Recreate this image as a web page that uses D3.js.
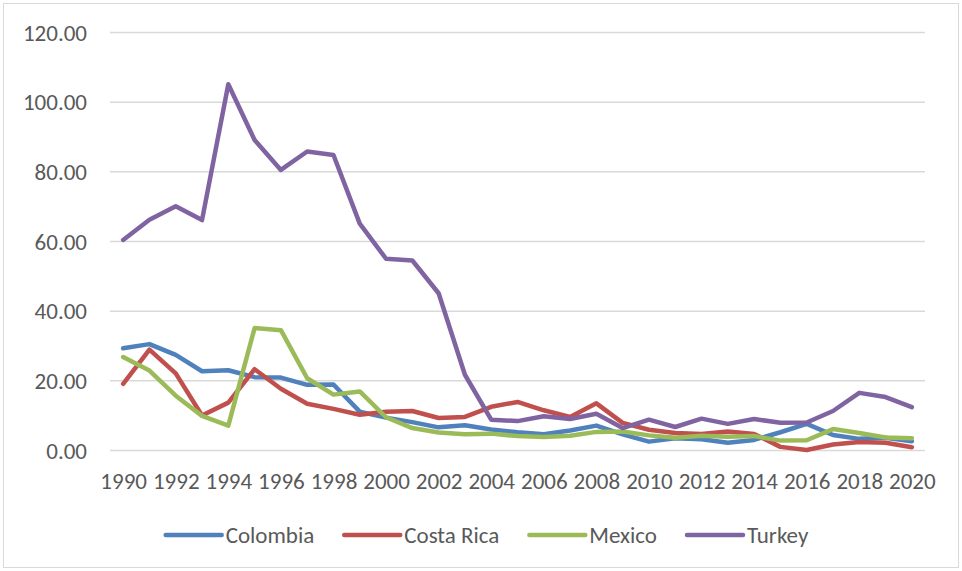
<!DOCTYPE html>
<html>
<head>
<meta charset="utf-8">
<script src="https://cdn.jsdelivr.net/npm/d3@7"></script>
<style>
  html, body { margin: 0; padding: 0; background: #fff; }
  svg { display: block; }
  text { font-family: Calibri, Carlito, "Liberation Sans", Arial, sans-serif; fill: #595959; }
</style>
</head>
<body>
<svg id="chart" width="962" height="571"></svg>
<script>
// Annual inflation (%), 1990-2020
const years = d3.range(1990, 2021);
const seriesNames = ["Colombia", "Costa Rica", "Mexico", "Turkey"];
const seriesColors = ["#4F81BD", "#C0504D", "#9BBB59", "#8064A2"];

const colombia = [29.2, 30.4, 27.3, 22.6, 22.9, 20.9, 20.8, 18.7, 18.8, 11.0, 9.3, 8.0, 6.5, 7.1, 5.9, 5.1, 4.5, 5.6, 7.0, 4.5, 2.4, 3.4, 3.1, 2.1, 2.9, 5.1, 7.5, 4.3, 3.2, 3.5, 2.5];
const costaRica = [19.0, 28.8, 22.0, 9.9, 13.6, 23.2, 17.6, 13.3, 11.8, 10.1, 11.0, 11.2, 9.2, 9.5, 12.4, 13.8, 11.4, 9.5, 13.4, 7.8, 5.8, 4.9, 4.6, 5.3, 4.6, 0.9, 0.0, 1.6, 2.3, 2.1, 0.8];
const mexico = [26.7, 22.8, 15.6, 9.8, 7.0, 35.0, 34.4, 20.6, 15.9, 16.8, 9.4, 6.3, 5.0, 4.5, 4.7, 4.0, 3.7, 4.1, 5.2, 5.3, 4.2, 3.5, 4.1, 3.8, 4.0, 2.7, 2.8, 6.0, 4.9, 3.6, 3.4];
const turkey = [60.3, 66.1, 70.0, 66.0, 105.0, 89.0, 80.4, 85.7, 84.7, 65.0, 54.9, 54.4, 45.0, 21.6, 8.7, 8.3, 9.7, 8.9, 10.4, 6.3, 8.7, 6.6, 9.0, 7.5, 8.9, 7.8, 7.9, 11.2, 16.4, 15.2, 12.3];

const yTicks = [0, 20, 40, 60, 80, 100, 120];
const xTickYears = years.filter(y => (y - 1990) % 2 === 0);

const allSeries = [colombia, costaRica, mexico, turkey];

const svg = d3.select("#chart");
const W = 962, H = 571;
const fontSize = 23;

// chart area frame
svg.append("rect")
  .attr("x", 3.5).attr("y", 3.5)
  .attr("width", W - 7).attr("height", H - 7)
  .attr("fill", "#fff")
  .attr("stroke", "#D9D9D9")
  .attr("stroke-width", 1);

const plot = { left: 110, right: 925, top: 32, bottom: 450 };

const x = d3.scalePoint()
  .domain(years)
  .range([plot.left, plot.right])
  .padding(0.5);

const y = d3.scaleLinear()
  .domain([0, 120])
  .range([plot.bottom, plot.top]);

// horizontal gridlines
const yAxis = d3.axisLeft(y)
  .tickValues(yTicks)
  .tickSize(-(plot.right - plot.left))
  .tickPadding(23)
  .tickFormat(d3.format(".2f"));

const gy = svg.append("g")
  .attr("transform", `translate(${plot.left},0)`)
  .call(yAxis);
gy.select(".domain").remove();
gy.selectAll(".tick line")
  .attr("stroke", "#D9D9D9")
  .attr("stroke-width", 1.5);
gy.selectAll(".tick text")
  .attr("font-size", fontSize)
  .attr("fill", "#595959")
  .attr("dy", "0.35em");

// category axis labels (every other year)
const xAxis = d3.axisBottom(x)
  .tickValues(xTickYears)
  .tickSize(0)
  .tickPadding(23)
  .tickFormat(d3.format("d"));

const gx = svg.append("g")
  .attr("transform", `translate(0,${plot.bottom})`)
  .call(xAxis);
gx.select(".domain").remove();
gx.selectAll(".tick text")
  .attr("font-size", fontSize)
  .attr("fill", "#595959");

// series lines
const line = d3.line()
  .x((d, i) => x(years[i]))
  .y(d => y(d));

svg.append("g")
  .selectAll("path")
  .data(allSeries)
  .join("path")
  .attr("d", d => line(d))
  .attr("fill", "none")
  .attr("stroke", (d, i) => seriesColors[i])
  .attr("stroke-width", 4.5)
  .attr("stroke-linejoin", "round")
  .attr("stroke-linecap", "round");

// legend
const legend = svg.append("g");
const legendY = 535;
const swatch = 56, swatchGap = 4, itemGap = 30;
let cursor = 0;
seriesNames.forEach((name, i) => {
  const item = legend.append("g").attr("transform", `translate(${cursor},0)`);
  item.append("line")
    .attr("x1", 0).attr("x2", swatch)
    .attr("y1", legendY).attr("y2", legendY)
    .attr("stroke", seriesColors[i])
    .attr("stroke-width", 4.5)
    .attr("stroke-linecap", "round");
  const t = item.append("text")
    .attr("x", swatch + swatchGap)
    .attr("y", legendY)
    .attr("dy", "0.35em")
    .attr("font-size", fontSize)
    .text(name);
  cursor += swatch + swatchGap + t.node().getComputedTextLength() + itemGap;
});
const legendWidth = cursor - itemGap;
legend.attr("transform", `translate(${487 - legendWidth / 2},0)`);
</script>
</body>
</html>
